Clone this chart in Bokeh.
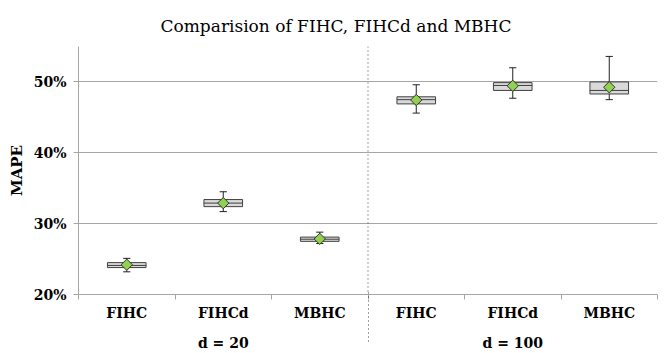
import numpy as np
from bokeh.plotting import figure
from bokeh.models import (FixedTicker, LinearAxis, Span, Range1d, ColumnDataSource,
                          PrintfTickFormatter)
from bokeh.embed import file_html
from bokeh.resources import INLINE

# ---- data ----
groups = ["d = 20", "d = 100"]
categories = ["FIHC", "FIHCd", "MBHC", "FIHC", "FIHCd", "MBHC"]
lower  = [23.2, 31.7, 27.2, 45.6, 47.7, 47.5]
q1     = [23.8, 32.4, 27.5, 46.9, 48.8, 48.3]
median = [24.1, 32.9, 27.8, 47.5, 49.5, 48.8]
q3     = [24.5, 33.4, 28.1, 47.9, 49.9, 50.0]
upper  = [25.1, 34.5, 28.8, 49.6, 52.0, 53.6]
mean   = [24.2, 32.9, 27.85, 47.45, 49.45, 49.25]
y_ticks = [20, 30, 40, 50]

FONT = "DejaVu Serif"
GRID = "#a6a6a6"
DARK = "#404040"

n = len(categories)
x = [i + 0.5 for i in range(n)]
bw = 0.4
cw = 0.075

src = ColumnDataSource(dict(
    x=x, lower=lower, q1=q1, median=median, q3=q3, upper=upper, mean=mean,
    x0=[v - bw / 2 for v in x], x1=[v + bw / 2 for v in x],
    c0=[v - cw / 2 for v in x], c1=[v + cw / 2 for v in x],
))

p = figure(width=658, height=353, x_range=Range1d(0, n), y_range=Range1d(20, 55),
           output_backend="svg", toolbar_location=None,
           min_border_left=78, min_border_right=1, min_border_top=46, min_border_bottom=57)
p.outline_line_color = None
p.background_fill_color = "white"

# title
p.title.text = "Comparision of FIHC, FIHCd and MBHC"
p.title.text_font = FONT
p.title.text_font_size = "17px"
p.title.text_font_style = "normal"
p.title.text_color = "black"
p.title.align = "left"
p.title.offset = 82
p.title.standoff = 21

# grid
p.xgrid.visible = False
p.ygrid.ticker = FixedTicker(ticks=y_ticks)
p.ygrid.grid_line_color = GRID
p.ygrid.grid_line_width = 1

# y axis
ya = p.yaxis[0]
ya.ticker = FixedTicker(ticks=y_ticks)
ya.formatter = PrintfTickFormatter(format="%d%%")
ya.axis_line_color = GRID
ya.major_tick_line_color = GRID
ya.major_tick_out = 5
ya.major_tick_in = 0
ya.minor_tick_line_color = None
ya.major_label_text_font = FONT
ya.major_label_text_font_style = "bold"
ya.major_label_text_font_size = "14px"
ya.major_label_text_color = "black"
ya.major_label_standoff = 7
ya.axis_label = "MAPE"
ya.axis_label_text_font = FONT
ya.axis_label_text_font_style = "bold"
ya.axis_label_text_font_size = "15px"
ya.axis_label_text_color = "black"
ya.axis_label_standoff = 5

# main x axis: category labels at centres, ticks at boundaries
xa = p.xaxis[0]
xa.ticker = FixedTicker(ticks=x, minor_ticks=list(range(n + 1)))
xa.major_label_overrides = {v: c for v, c in zip(x, categories)}
xa.axis_line_color = GRID
xa.major_tick_line_color = None
xa.major_tick_out = 5
xa.major_tick_in = 0
xa.minor_tick_line_color = GRID
xa.minor_tick_out = 5
xa.minor_tick_in = 0
xa.major_label_text_font = FONT
xa.major_label_text_font_style = "bold"
xa.major_label_text_font_size = "14px"
xa.major_label_text_color = "black"
xa.major_label_standoff = 5

# group axis (also carries the dotted separator below the frame)
gx = [1.5, 4.5]
ga = LinearAxis(ticker=FixedTicker(ticks=gx, minor_ticks=[n / 2]))
ga.major_label_overrides = {v: g for v, g in zip(gx, groups)}
ga.axis_line_color = None
ga.major_tick_line_color = None
ga.major_tick_out = 0
ga.major_tick_in = 0
ga.minor_tick_line_color = DARK
ga.minor_tick_line_dash = "1 3"
ga.minor_tick_in = 32
ga.minor_tick_out = 18
ga.major_label_text_font = FONT
ga.major_label_text_font_style = "bold"
ga.major_label_text_font_size = "14px"
ga.major_label_text_color = "black"
ga.major_label_standoff = -7
p.add_layout(ga, "below")

# separator inside plot
p.add_layout(Span(location=n / 2, dimension="height", line_color=DARK,
                  line_dash="1 3", line_width=1))

# whiskers
p.segment(x0="x", y0="q3", x1="x", y1="upper", source=src, line_color="#222222", line_width=1)
p.segment(x0="x", y0="q1", x1="x", y1="lower", source=src, line_color="#222222", line_width=1)
p.segment(x0="c0", y0="upper", x1="c1", y1="upper", source=src, line_color="#222222", line_width=1)
p.segment(x0="c0", y0="lower", x1="c1", y1="lower", source=src, line_color="#222222", line_width=1)

# boxes
p.vbar(x="x", width=bw, bottom="q1", top="q3", source=src,
       fill_color="#d9d9d9", line_color=DARK, line_width=1)
p.segment(x0="x0", y0="median", x1="x1", y1="median", source=src,
          line_color=DARK, line_width=1)

# mean markers
p.scatter(x="x", y="mean", source=src, marker="square", angle=np.pi / 4, size=8,
          fill_color="#92d050", line_color="#333333", line_width=1)

open("out.html", "w").write(file_html(p, INLINE))
